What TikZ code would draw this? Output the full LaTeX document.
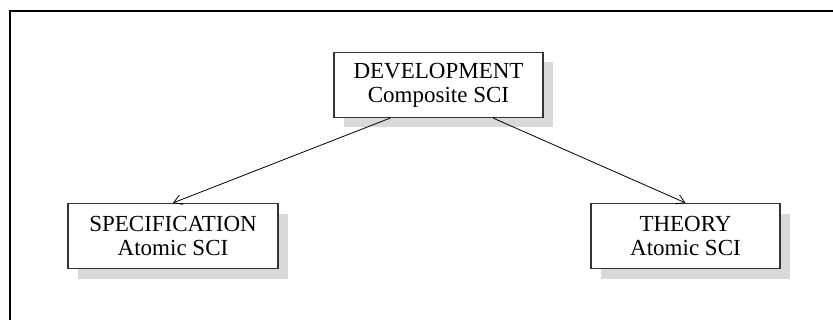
\documentclass[tikz,border=0pt]{standalone}
\usepackage{fontspec}
\setmainfont{Liberation Serif}
\usetikzlibrary{arrows.meta,positioning,calc,shadows}

\begin{document}
\begin{tikzpicture}[
  x=0.5pt, y=-0.5pt,
  sci/.style={draw=black!80,line width=0.6pt,fill=white,align=center,
              inner sep=2pt,font=\fontsize{11.5}{12}\selectfont,
              minimum height=32.5pt,
              drop shadow={shadow xshift=5pt,shadow yshift=-5pt,
                           fill=black!15,opacity=1}},
  ar/.style={-{Straight Barb[length=4pt,width=5pt]},line width=0.4pt}]
\useasboundingbox (0,0) rectangle (833,320);
% frame
\draw[line width=1.1pt] (10,320) -- (10,11) -- (833,11);
\node[sci,minimum width=104.5pt] (dev) at (438.5,85) {DEVELOPMENT\\ Composite SCI};
\node[sci,minimum width=105pt] (spec) at (173,236) {SPECIFICATION\\ Atomic SCI};
\node[sci,minimum width=94.5pt] (thy) at (685.5,236) {THEORY\\ Atomic SCI};
\draw[ar] ($(dev.south west)!0.27!(dev.south east)$) -- (spec.north);
\draw[ar] ($(dev.south west)!0.76!(dev.south east)$) -- (thy.north);
\end{tikzpicture}
\end{document}
